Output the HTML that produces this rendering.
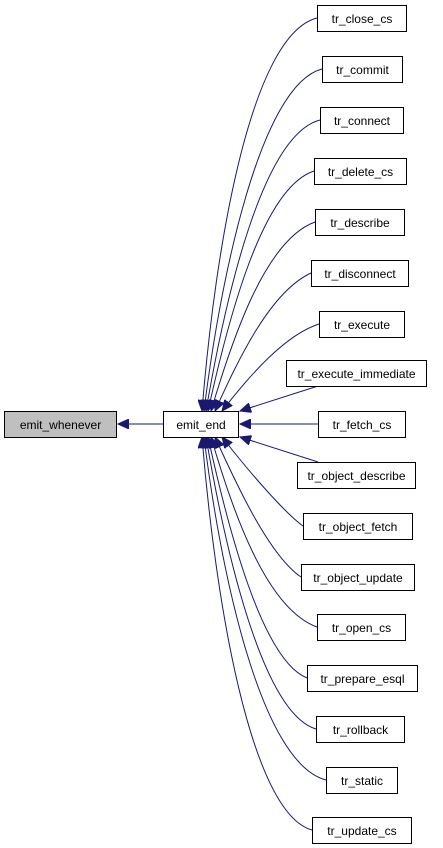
<!DOCTYPE html>
<html><head><meta charset="utf-8"><style>
html,body{margin:0;padding:0;background:#fff;}
svg{display:block;}
text{font-family:"Liberation Sans",sans-serif;font-size:12px;fill:#000;}
</style></head><body>
<svg width="443" height="848" viewBox="0 0 443 848" xmlns="http://www.w3.org/2000/svg">
<defs>
<marker id="a" markerWidth="12" markerHeight="10" refX="11" refY="5" orient="auto" markerUnits="userSpaceOnUse">
<polygon points="0,0 11,5 0,10" fill="#191970" stroke="#191970"/>
</marker>
</defs>
<g fill="none" stroke="#191970" stroke-width="1" marker-end="url(#a)">
<path d="M317,18 C250,35 215,250 202,411"/>
<path d="M322,69 C260,85 220,280 204,411"/>
<path d="M320,120 C262,135 225,300 206,411"/>
<path d="M314,171 C262,188 228,320 208,411"/>
<path d="M315,222 C265,240 232,340 211,411"/>
<path d="M311,273 C270,292 238,360 215,411"/>
<path d="M319,324 C285,335 250,375 222,411"/>
<path d="M318,386 L240,411"/>
<path d="M318,424 L240,424"/>
<path d="M318,462 L240,437"/>
<path d="M303,526 C285,513 250,473 222,437"/>
<path d="M301,577 C270,556 238,488 215,437"/>
<path d="M317,627 C265,608 232,508 211,437"/>
<path d="M307,678 C262,660 228,528 208,437"/>
<path d="M316,729 C262,713 225,548 206,437"/>
<path d="M326,780 C260,763 220,568 204,437"/>
<path d="M312,830 C250,813 215,598 202,437"/>
<path d="M163,424 L118,424"/>
</g>
<g stroke="#000" stroke-width="1">
<rect x="4.5" y="411.5" width="112" height="26" fill="#bfbfbf"/>
<rect x="163.5" y="411.5" width="75" height="26" fill="#fff"/>
<rect x="317.5" y="5.5" width="89" height="26" fill="#fff"/>
<rect x="322.5" y="56.5" width="80" height="26" fill="#fff"/>
<rect x="320.5" y="107.5" width="83" height="26" fill="#fff"/>
<rect x="314.5" y="158.5" width="92" height="26" fill="#fff"/>
<rect x="315.5" y="209.5" width="89" height="26" fill="#fff"/>
<rect x="311.5" y="260.5" width="97" height="26" fill="#fff"/>
<rect x="319.5" y="311.5" width="85" height="26" fill="#fff"/>
<rect x="286.5" y="360.5" width="140" height="26" fill="#fff"/>
<rect x="318.5" y="411.5" width="87" height="26" fill="#fff"/>
<rect x="297.5" y="462.5" width="118" height="26" fill="#fff"/>
<rect x="303.5" y="513.5" width="109" height="26" fill="#fff"/>
<rect x="301.5" y="564.5" width="113" height="26" fill="#fff"/>
<rect x="317.5" y="614.5" width="88" height="26" fill="#fff"/>
<rect x="307.5" y="665.5" width="110" height="26" fill="#fff"/>
<rect x="316.5" y="716.5" width="88" height="26" fill="#fff"/>
<rect x="326.5" y="767.5" width="71" height="26" fill="#fff"/>
<rect x="312.5" y="817.5" width="99" height="26" fill="#fff"/>
</g>
<g text-anchor="middle">
<text x="60.5" y="429">emit_whenever</text>
<text x="201" y="429">emit_end</text>
<text x="362" y="23">tr_close_cs</text>
<text x="362.5" y="74">tr_commit</text>
<text x="362" y="125">tr_connect</text>
<text x="360.5" y="176">tr_delete_cs</text>
<text x="360" y="227">tr_describe</text>
<text x="360" y="278">tr_disconnect</text>
<text x="362" y="329">tr_execute</text>
<text x="356.5" y="378">tr_execute_immediate</text>
<text x="362" y="429">tr_fetch_cs</text>
<text x="356.5" y="480">tr_object_describe</text>
<text x="358" y="531">tr_object_fetch</text>
<text x="358" y="582">tr_object_update</text>
<text x="361.5" y="632">tr_open_cs</text>
<text x="362.5" y="683">tr_prepare_esql</text>
<text x="360.5" y="734">tr_rollback</text>
<text x="362" y="785">tr_static</text>
<text x="362" y="835">tr_update_cs</text>
</g>
</svg>
</body></html>
